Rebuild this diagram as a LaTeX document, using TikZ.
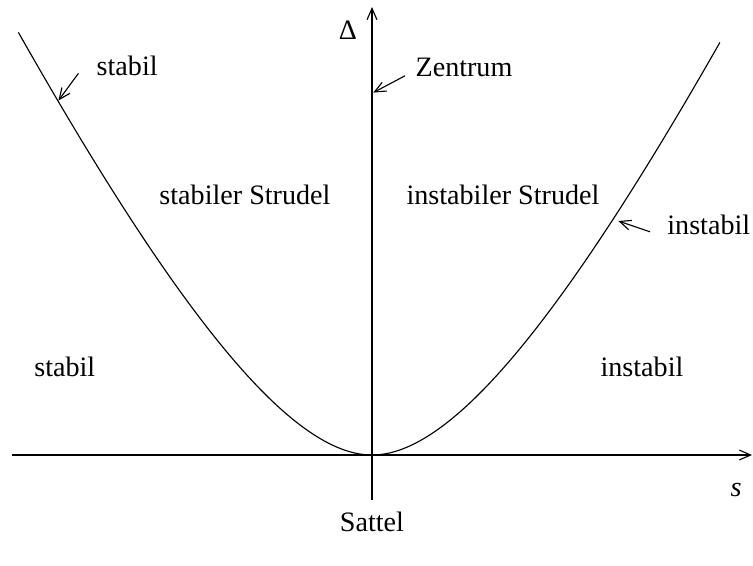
\documentclass[tikz,border=0pt]{standalone}
\usepackage{fontspec}
\setmainfont{Liberation Serif}
\usepackage{tikz}
\usetikzlibrary{positioning,arrows.meta}

\begin{document}
\begin{tikzpicture}[scale=1.0,>={Straight Barb[length=4pt,width=3.5pt]},
  lbl/.style={inner sep=1pt,font=\fontsize{10}{12}\selectfont}]
\useasboundingbox (-4.65,-1.375) rectangle (4.7625,5.6875);
% axes
\coordinate (o) at (0,0);
\coordinate (sl) at (-4.5,0);
\coordinate (sr) at (4.75,0);
\coordinate (db) at (0,-0.56);
\coordinate (dt) at (0,5.6);
\draw[thin,->] (sl) -- (sr);
\draw[thin,->] (db) -- (dt);
\node[lbl] (slab) at (4.55,-0.44) {\textit{s}};
\node[lbl] (dlab) at (-0.3,5.31) {Δ};
% curve
\draw[thin,domain=-4.42:4.35,samples=120,smooth]
  plot (\x,{0.568*\x*\x/(1+0.249*abs(\x))});
% regions
\node[lbl] (stl) at (-3.84,1.1) {stabil};
\node[lbl] (instr) at (3.375,1.1) {instabil};
\node[lbl] (stst) at (-1.5875,3.25) {stabiler Strudel};
\node[lbl] (inst) at (1.6375,3.25) {instabiler Strudel};
\node[lbl] (satt) at (0,-0.84) {Sattel};
% pointers
\node[lbl] (stab) at (-3.06,4.86) {stabil};
\node[lbl] (zent) at (1.15,4.84) {Zentrum};
\node[lbl] (inst2) at (4.21,2.875) {instabil};
\coordinate (stabt) at (-3.67,4.77);
\coordinate (stabh) at (-3.92,4.43);
\coordinate (zentt) at (0.4125,4.74);
\coordinate (zenth) at (0.016,4.53);
\coordinate (instt) at (3.475,2.79);
\coordinate (insth) at (3.079,2.925);
\draw[thin,->] (stabt) -- (stabh);
\draw[thin,->] (zentt) -- (zenth);
\draw[thin,->] (instt) -- (insth);
\end{tikzpicture}
\end{document}
